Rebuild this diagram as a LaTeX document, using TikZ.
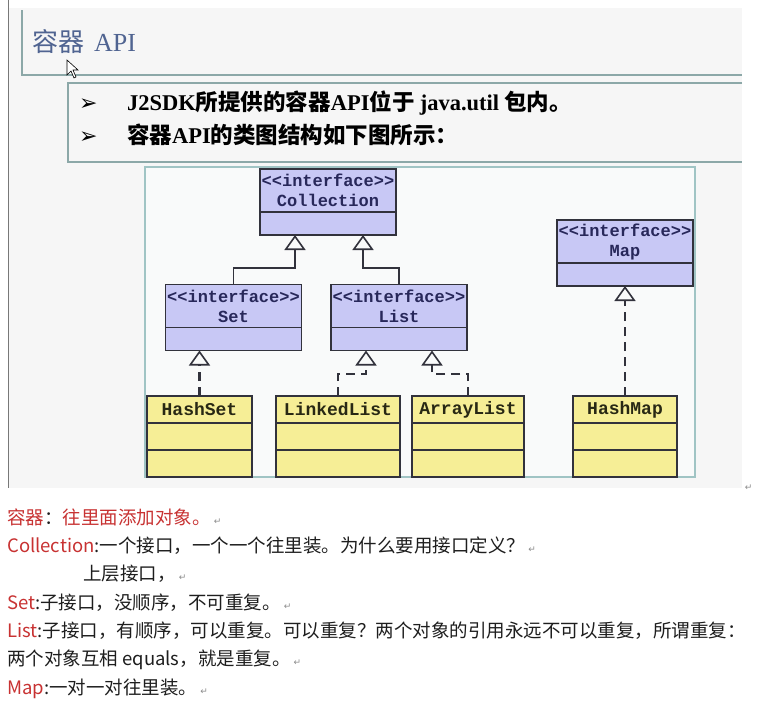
\documentclass[tikz,border=0pt]{standalone}
\usepackage{fontspec}
\setmainfont{Noto Sans CJK SC}
\newfontfamily\tnr{Liberation Serif}
\newfontfamily\umlfont{Liberation Mono}
\newfontfamily\djv{DejaVu Sans}
\usepackage{xcolor}
\usepackage{tikz}
\usetikzlibrary{arrows.meta, positioning}
\definecolor{bggray}{RGB}{246,246,246}
\definecolor{shotline}{RGB}{120,120,120}
\definecolor{frameline}{RGB}{140,168,168}
\definecolor{diagline}{RGB}{160,196,196}
\definecolor{diagfill}{RGB}{249,250,250}
\definecolor{ifblue}{RGB}{200,200,245}
\definecolor{clyellow}{RGB}{246,238,150}
\definecolor{umlline}{RGB}{50,50,60}
\definecolor{ifnavy}{RGB}{40,40,90}
\definecolor{cltext}{RGB}{40,40,20}
\definecolor{titleblue}{RGB}{80,100,145}
\definecolor{notered}{RGB}{200,50,50}
\definecolor{notetext}{RGB}{30,30,30}
\definecolor{retgray}{RGB}{140,140,140}
\newcommand{\hl}[1]{\textcolor{notered}{#1}}
\newcommand{\ret}{\,{\djv\fontsize{9}{9}\selectfont\textcolor{retgray}{↵}}}
\tikzset{
  ifhead/.style={rectangle, draw=umlline, fill=ifblue, minimum width=136pt,
    minimum height=43pt, inner sep=0pt, outer sep=0pt, align=center,
    text=ifnavy, font=\umlfont\bfseries\fontsize{17}{20}\selectfont,
    line width=1.3pt},
  ifbody/.style={rectangle, draw=umlline, fill=ifblue, minimum width=136pt,
    minimum height=23pt, inner sep=0pt, outer sep=0pt, line width=1.3pt},
  clhead/.style={rectangle, draw=umlline, fill=clyellow, minimum width=#1,
    minimum height=27pt, inner sep=0pt, outer sep=0pt, text=cltext,
    font=\umlfont\bfseries\fontsize{18}{20}\selectfont, line width=1.3pt},
  clbody/.style={rectangle, draw=umlline, fill=clyellow, minimum width=#1,
    minimum height=27pt, inner sep=0pt, outer sep=0pt, line width=1.3pt},
  genarrow/.style={-{Triangle[open, length=15pt, width=21pt, line width=1.6pt]},
    line width=1.8pt, color=umlline},
  realarrow/.style={genarrow, dash pattern=on 9pt off 6pt, line width=2.2pt},
  note/.style={anchor=base west, inner sep=0pt, text=notetext,
    font=\fontsize{18.5}{22}\selectfont}
}
\begin{document}
\begin{tikzpicture}[x=1pt, y=-1pt,
  bulltext/.style={anchor=base west, inner sep=0pt, text=black,
    font=\bfseries\fontsize{22.5}{26}\selectfont},
  bulletmark/.style={anchor=base west, inner sep=0pt,
    font=\djv\fontsize{22}{24}\selectfont}]
  \useasboundingbox[fill=white] (0,0) rectangle (763,702);
  % screenshot frames
  \fill[bggray] (8,8) rectangle (742,488);
  \draw[shotline, line width=1pt] (8,0) -- (8,488);
  \draw[frameline, line width=1.2pt] (22,10) -- (22,75) -- (742,75);
  \draw[frameline, line width=1.2pt] (742,83) -- (68,83) -- (68,162) -- (742,162);
  \draw[diagline, line width=1.2pt, fill=diagfill] (145,167) rectangle (695,477);
  \node[anchor=west, inner sep=0pt, text=titleblue, font=\fontsize{26}{30}\selectfont]
    (title) at (32,42) {容器\hspace{10pt}{\tnr API}};
  \draw[fill=white, draw=black, line width=0.6pt] (67,60) -- (67,75) -- (71,71)
    -- (74,78) -- (76,77) -- (73,70) -- (78,70) -- cycle;
  \node[bulletmark] (m1) at (79,110) {➢};
  \node[bulletmark] (m2) at (79,143) {➢};
  \node[bulltext] (t1) at (127,110) {{\tnr J2SDK}所提供的容器{\tnr API}位于 {\tnr java.util} 包内。};
  \node[bulltext] (t2) at (127,143) {容器{\tnr API}的类图结构如下图所示：};
  % interfaces
  \node[ifhead] (coll) at (328,190.5) {<<interface>>\\Collection};
  \node[ifbody, below=0pt of coll] (collb) {};
  \node[ifhead] (set) at (233.5,306) {<<interface>>\\Set};
  \node[ifbody, below=0pt of set] (setb) {};
  \node[ifhead] (list) at (399,306) {<<interface>>\\List};
  \node[ifbody, below=0pt of list] (listb) {};
  \node[ifhead] (map) at (625,241.5) {<<interface>>\\Map};
  \node[ifbody, below=0pt of map] (mapb) {};
  % classes
  \node[clhead=105pt] (hset) at (199.5,409.5) {HashSet};
  \node[clbody=105pt, below=0pt of hset] (hset1) {};
  \node[clbody=105pt, below=0pt of hset1] (hset2) {};
  \node[clhead=124pt] (llist) at (338,409.5) {LinkedList};
  \node[clbody=124pt, below=0pt of llist] (llist1) {};
  \node[clbody=124pt, below=0pt of llist1] (llist2) {};
  \node[clhead=112pt] (alist) at (468,409.5) {ArrayList};
  \node[clbody=112pt, below=0pt of alist] (alist1) {};
  \node[clbody=112pt, below=0pt of alist1] (alist2) {};
  \node[clhead=104pt] (hmap) at (625,409.5) {HashMap};
  \node[clbody=104pt, below=0pt of hmap] (hmap1) {};
  \node[clbody=104pt, below=0pt of hmap1] (hmap2) {};
  % generalization
  \draw[genarrow] (set.north) |- (295,268) -- ([xshift=-33pt]collb.south);
  \draw[genarrow] (list.north) |- (363,268) -- ([xshift=35pt]collb.south);
  % realization
  \draw[realarrow] (hset.north) -- (hset.north |- setb.south);
  \draw[realarrow] (llist.north) |- (366,374) -- ([xshift=-33pt]listb.south);
  \draw[realarrow] (alist.north) |- (432,374) -- ([xshift=33pt]listb.south);
  \draw[realarrow] (hmap.north) -- (mapb.south);
  \node[anchor=base west, inner sep=0pt] (r0) at (743,490) {\ret};
  % notes
  \node[note] (n1) at (7,524) {\hl{容器}：\hl{往里面添加对象。}\ret};
  \node[note] (n2) at (7,552) {\hl{Collection}:一个接口，一个一个往里装。为什么要用接口定义？\ret};
  \node[note] (n3) at (83,580) {上层接口，\ret};
  \node[note] (n4) at (7,609) {\hl{Set}:子接口，没顺序，不可重复。\ret};
  \node[note] (n5) at (7,637) {\hl{List}:子接口，有顺序，可以重复。可以重复？两个对象的引用永远不可以重复，所谓重复：};
  \node[note] (n6) at (7,665) {两个对象互相 equals，就是重复。\ret};
  \node[note] (n7) at (7,694) {\hl{Map}:一对一对往里装。\ret};
\end{tikzpicture}
\end{document}
